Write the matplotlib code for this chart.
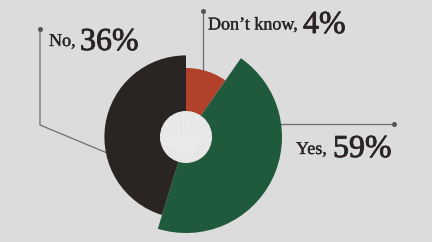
import numpy as np
import matplotlib
matplotlib.use("Agg")
from matplotlib import pyplot as plt
from matplotlib.patches import Wedge, Circle
import matplotlib.patheffects as pe

# survey shares, clockwise from the top
labels = ["Don't know", "Yes", "No"]
values = [4, 59, 36]
colors = ["#b1412b", "#1f5a3d", "#2a2523"]

bg = "#dcdcdc"
ink = "#2a2523"
cx, cy = 186, 137          # centre of the rose, in pixels
hole = 26                  # radius of the centre disc
base = 52                  # petals are measured from this ring outwards

# petal length grows with the share, and each petal's area past the
# base ring is proportional to the share
radii = [68.5 + 0.0607 * v ** 1.5 for v in values]
weights = [v / (r ** 2 - base ** 2) for v, r in zip(values, radii)]
sweeps = [360 * w / sum(weights) for w in weights]

fig = plt.figure(figsize=(4.32, 2.42), dpi=100)
fig.patch.set_facecolor(bg)
ax = fig.add_axes([0, 0, 1, 1])
ax.set_xlim(0, 432)
ax.set_ylim(242, 0)
ax.set_aspect("equal")
ax.axis("off")

# y grows downwards here, so increasing theta runs clockwise on screen
start = 0
for r, sw, c in zip(radii, sweeps, colors):
    ax.add_patch(Wedge((cx, cy), r, start - 90, start + sw - 90, facecolor=c, edgecolor="none", zorder=2))
    start += sw

disc = Circle((cx, cy), hole, facecolor="#e7e7e7", edgecolor="none", zorder=3)
ax.add_patch(disc)
# faint fan strokes on the disc
for a in np.linspace(-150, -25, 13):
    t = np.radians(a)
    x0, y0 = cx - 4, cy + 16
    ln, = ax.plot([x0, x0 + 60 * np.cos(t)], [y0, y0 + 60 * np.sin(t)],
                  color="#ededed", lw=0.8, zorder=4)
    ln.set_clip_path(disc)

line_kw = dict(color="#6e6e6e", lw=0.9, zorder=1)
dot_kw = dict(color="#555555", ms=2.6, marker="o", zorder=5)

r_dk, r_yes, r_no = radii

# Don't know leader
lx = 203
ly = cy - np.sqrt(r_dk ** 2 - (lx - cx) ** 2)
ax.plot([lx, lx], [11, ly], **line_kw)
ax.plot(lx, 11, **dot_kw)

# No leader
u = np.array([103 - cx, 153 - cy], dtype=float)
u /= np.hypot(*u)
ex, ey = cx + r_no * u[0], cy + r_no * u[1]
ax.plot([40, 40, ex], [29, 125, ey], **line_kw)
ax.plot(40, 29, **dot_kw)

# Yes leader
yy = 124.3
yx = cx + np.sqrt(r_yes ** 2 - (cy - yy) ** 2)
ax.plot([yx, 394], [yy, yy], **line_kw)
ax.plot(394, yy, **dot_kw)

small = dict(family="Liberation Serif", fontsize=13, color=ink, va="baseline", ha="left",
             path_effects=[pe.withStroke(linewidth=0.25, foreground=ink)])
big = dict(family="Liberation Serif", fontsize=23, color=ink, va="baseline", ha="left",
           path_effects=[pe.withStroke(linewidth=0.6, foreground=ink)])

ax.text(49, 46, labels[2] + ",", **small)
ax.text(80, 50, f"{values[2]}%", **big)
ax.text(208, 29.5, labels[0].replace("'", "\u2019") + ",", **small)
ax.text(303, 33, f"{values[0]}%", **big)
ax.text(296, 154, labels[1] + ",", **small)
ax.text(333, 157, f"{values[1]}%", **big)

fig.savefig("out.png", dpi=100, facecolor=bg)
